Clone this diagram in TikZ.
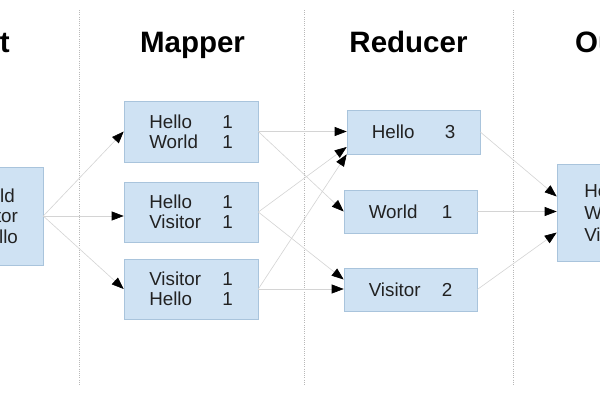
\documentclass[tikz,border=0pt]{standalone}
\usepackage{fontspec}
\setmainfont{Liberation Sans}
\usetikzlibrary{arrows.meta,calc}
\definecolor{boxfill}{HTML}{CFE2F3}
\definecolor{boxline}{HTML}{A9C4DC}
\definecolor{edgegray}{HTML}{D4D4D4}
\definecolor{divgray}{HTML}{B8B8B8}
\definecolor{txt}{HTML}{222222}
\newcommand{\kv}[2]{\makebox[73pt][l]{#1}#2}
\tikzset{
 title/.style={font=\bfseries\fontsize{29.5}{32}\selectfont, text=black, inner sep=0pt},
 kvbox/.style={draw=boxline, fill=boxfill, line width=0.6pt, inner sep=0pt, align=left,
   font=\fontsize{18.8}{20}\selectfont, text=txt},
 flow/.style={draw=edgegray, line width=0.6pt, -{Triangle[length=12pt,width=9pt,color=black]}},
 divider/.style={draw=divgray, line width=0.6pt, dash pattern=on 1pt off 1.2pt},
}
\begin{document}
\begin{tikzpicture}[x=1pt,y=-1pt]
\useasboundingbox (0,0) rectangle (600,400);
\clip (0,0) rectangle (600,400);
\fill[white] (0,0) rectangle (600,400);

% dividers
\draw[divider] (79,10) -- (79,385);
\draw[divider] (304,10) -- (304,385);
\draw[divider] (513,10) -- (513,385);

% titles
\node[title, anchor=base east] (tin) at (10,52) {Input};
\node[title, anchor=base] (tmap) at (192.5,52) {Mapper};
\node[title, anchor=base] (tred) at (408.5,52) {Reducer};
\node[title, anchor=base west] (tout) at (575,52) {Output};

% input
\node[kvbox, minimum width=150pt, minimum height=98pt, font=\fontsize{18.8}{20.5}\selectfont] (in) at (-32,216)
  {Hello World\\Hello Visitor\\Visitor Hello};

% mappers
\node[kvbox, minimum width=134pt, minimum height=61pt] (m1) at (191,131.5) {\kv{Hello}{1}\\\kv{World}{1}};
\node[kvbox, minimum width=134pt, minimum height=60pt] (m2) at (191,212) {\kv{Hello}{1}\\\kv{Visitor}{1}};
\node[kvbox, minimum width=134pt, minimum height=60pt] (m3) at (191,289) {\kv{Visitor}{1}\\\kv{Hello}{1}};

% reducers
\node[kvbox, minimum width=133pt, minimum height=44pt] (r1) at (413.5,132) {\kv{Hello}{3}};
\node[kvbox, minimum width=133pt, minimum height=43pt] (r2) at (410.5,211.5) {\kv{World}{1}};
\node[kvbox, minimum width=133pt, minimum height=43pt] (r3) at (410.5,289.5) {\kv{Visitor}{2}};

% output
\node[kvbox, minimum width=138pt, minimum height=97pt, font=\fontsize{18.8}{22}\selectfont] (out) at (626,212.5)
  {\kv{Hello}{3}\\\kv{World}{1}\\\kv{Visitor}{2}};

% input -> mappers
\draw[flow] (in.east) -- (m1.west);
\draw[flow] (in.east) -- (m2.west |- in.east);
\draw[flow] (in.east) -- (m3.west);

% mappers -> reducers
\draw[flow] (m1.east) -- (r1.west |- m1.east);
\draw[flow] (m1.east) -- (r2.west);
\draw[flow] (m2.east) -- ([yshift=-15pt]r1.west);
\draw[flow] (m2.east) -- ([yshift=10pt]r3.west);
\draw[flow] (m3.east) -- (r1.south west);
\draw[flow] (m3.east) -- (r3.west |- m3.east);

% reducers -> output
\draw[flow] (r1.east) -- ([yshift=16pt]out.west);
\draw[flow] (r2.east) -- (out.west |- r2.east);
\draw[flow] (r3.east) -- ([yshift=-20pt]out.west);
\end{tikzpicture}
\end{document}
